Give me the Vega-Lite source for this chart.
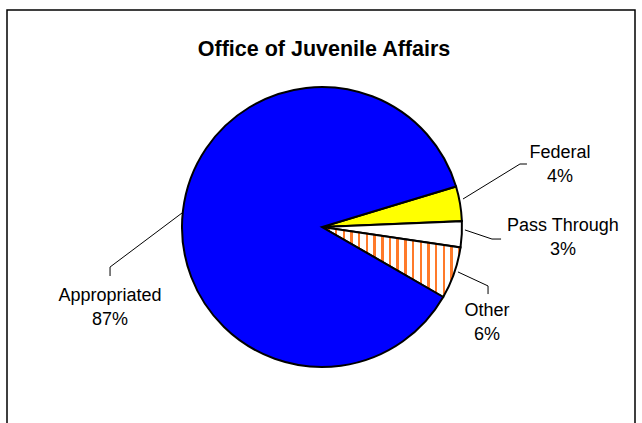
{
  "$schema": "https://vega.github.io/schema/vega-lite/v6.json",
  "width": 628,
  "height": 420,
  "autosize": {"type": "none"},
  "padding": {"left": 7, "top": 10, "right": 7, "bottom": 0},
  "background": "white",
  "config": {"view": {"stroke": "black", "strokeWidth": 1.5}, "font": "Liberation Sans"},
  "title": {"text": "Office of Juvenile Affairs", "font": "Liberation Sans", "fontSize": 21.5, "fontWeight": "bold", "color": "black", "anchor": "middle", "frame": "group", "baseline": "alphabetic", "offset": -67, "dx": 3},
  "datasets": {
    "slices": [
      {"category": "Federal", "value": 4, "order": 1},
      {"category": "Pass Through", "value": 3, "order": 2},
      {"category": "Other", "value": 6, "order": 3},
      {"category": "Appropriated", "value": 87, "order": 4}
    ],
    "labels": [
      {"category": "Federal", "text": "Federal\n4%", "lx": 170, "ly": 49.3},
      {"category": "Pass Through", "text": "Pass Through\n3%", "lx": 172.1, "ly": -2.9},
      {"category": "Other", "text": "Other\n6%", "lx": 117.9, "ly": -63.6},
      {"category": "Appropriated", "text": "Appropriated\n87%", "lx": -151.4, "ly": -52.9}
    ],
    "leaders": [
      {"category": "Federal", "step": 1, "lx": 100.7, "ly": 20},
      {"category": "Federal", "step": 2, "lx": 141.4, "ly": 45},
      {"category": "Federal", "step": 3, "lx": 146.4, "ly": 45},
      {"category": "Pass Through", "step": 1, "lx": 102.1, "ly": -2.1},
      {"category": "Pass Through", "step": 2, "lx": 121.4, "ly": -8.6},
      {"category": "Pass Through", "step": 3, "lx": 127.9, "ly": -8.6},
      {"category": "Other", "step": 1, "lx": 97.1, "ly": -32.1},
      {"category": "Other", "step": 2, "lx": 118.6, "ly": -42.1},
      {"category": "Other", "step": 3, "lx": 118.6, "ly": -47.9},
      {"category": "Appropriated", "step": 1, "lx": -100, "ly": 10},
      {"category": "Appropriated", "step": 2, "lx": -151.4, "ly": -28.6},
      {"category": "Appropriated", "step": 3, "lx": -151.4, "ly": -35}
    ]
  },
  "layer": [
    {
      "data": {"name": "slices"},
      "mark": {"type": "arc", "radius": 140, "stroke": "black", "strokeWidth": 2},
      "encoding": {
        "x": {"datum": 0, "type": "quantitative", "scale": {"domain": [-225, 223.57], "nice": false, "zero": false}, "axis": null},
        "y": {"datum": 0, "type": "quantitative", "scale": {"domain": [-145, 155], "nice": false, "zero": false}, "axis": null},
        "theta": {"field": "value", "type": "quantitative", "stack": true, "scale": {"range": [1.2776, 7.5608]}},
        "order": {"field": "order", "type": "quantitative"},
        "fill": {
          "condition": {
            "test": "datum.category === 'Other'",
            "value": {
              "gradient": "linear", "x1": 0, "y1": 0, "x2": 1, "y2": 0,
              "stops": [
                {"offset": 0, "color": "white"}, {"offset": 0.0378, "color": "white"}, {"offset": 0.0378, "color": "#FF7A2A"}, {"offset": 0.0556, "color": "#FF7A2A"},
                {"offset": 0.0556, "color": "white"}, {"offset": 0.0933, "color": "white"}, {"offset": 0.0933, "color": "#FF7A2A"}, {"offset": 0.1111, "color": "#FF7A2A"},
                {"offset": 0.1111, "color": "white"}, {"offset": 0.1489, "color": "white"}, {"offset": 0.1489, "color": "#FF7A2A"}, {"offset": 0.1667, "color": "#FF7A2A"},
                {"offset": 0.1667, "color": "white"}, {"offset": 0.2044, "color": "white"}, {"offset": 0.2044, "color": "#FF7A2A"}, {"offset": 0.2222, "color": "#FF7A2A"},
                {"offset": 0.2222, "color": "white"}, {"offset": 0.26, "color": "white"}, {"offset": 0.26, "color": "#FF7A2A"}, {"offset": 0.2778, "color": "#FF7A2A"},
                {"offset": 0.2778, "color": "white"}, {"offset": 0.3156, "color": "white"}, {"offset": 0.3156, "color": "#FF7A2A"}, {"offset": 0.3333, "color": "#FF7A2A"},
                {"offset": 0.3333, "color": "white"}, {"offset": 0.3711, "color": "white"}, {"offset": 0.3711, "color": "#FF7A2A"}, {"offset": 0.3889, "color": "#FF7A2A"},
                {"offset": 0.3889, "color": "white"}, {"offset": 0.4267, "color": "white"}, {"offset": 0.4267, "color": "#FF7A2A"}, {"offset": 0.4444, "color": "#FF7A2A"},
                {"offset": 0.4444, "color": "white"}, {"offset": 0.4822, "color": "white"}, {"offset": 0.4822, "color": "#FF7A2A"}, {"offset": 0.5, "color": "#FF7A2A"},
                {"offset": 0.5, "color": "white"}, {"offset": 0.5378, "color": "white"}, {"offset": 0.5378, "color": "#FF7A2A"}, {"offset": 0.5556, "color": "#FF7A2A"},
                {"offset": 0.5556, "color": "white"}, {"offset": 0.5933, "color": "white"}, {"offset": 0.5933, "color": "#FF7A2A"}, {"offset": 0.6111, "color": "#FF7A2A"},
                {"offset": 0.6111, "color": "white"}, {"offset": 0.6489, "color": "white"}, {"offset": 0.6489, "color": "#FF7A2A"}, {"offset": 0.6667, "color": "#FF7A2A"},
                {"offset": 0.6667, "color": "white"}, {"offset": 0.7044, "color": "white"}, {"offset": 0.7044, "color": "#FF7A2A"}, {"offset": 0.7222, "color": "#FF7A2A"},
                {"offset": 0.7222, "color": "white"}, {"offset": 0.76, "color": "white"}, {"offset": 0.76, "color": "#FF7A2A"}, {"offset": 0.7778, "color": "#FF7A2A"},
                {"offset": 0.7778, "color": "white"}, {"offset": 0.8156, "color": "white"}, {"offset": 0.8156, "color": "#FF7A2A"}, {"offset": 0.8333, "color": "#FF7A2A"},
                {"offset": 0.8333, "color": "white"}, {"offset": 0.8711, "color": "white"}, {"offset": 0.8711, "color": "#FF7A2A"}, {"offset": 0.8889, "color": "#FF7A2A"},
                {"offset": 0.8889, "color": "white"}, {"offset": 0.9267, "color": "white"}, {"offset": 0.9267, "color": "#FF7A2A"}, {"offset": 0.9444, "color": "#FF7A2A"},
                {"offset": 0.9444, "color": "white"}, {"offset": 0.9822, "color": "white"}, {"offset": 0.9822, "color": "#FF7A2A"}, {"offset": 1, "color": "#FF7A2A"}
              ]
            }
          },
          "field": "category",
          "type": "nominal",
          "scale": {"domain": ["Federal", "Pass Through", "Other", "Appropriated"], "range": ["#FFFF00", "#FFFFFF", "#FFFFFF", "#0000FF"]},
          "legend": null
        }
      }
    },
    {
      "data": {"name": "leaders"},
      "mark": {"type": "line", "stroke": "black", "strokeWidth": 1},
      "encoding": {
        "x": {"field": "lx", "type": "quantitative", "scale": {"domain": [-225, 223.57], "nice": false, "zero": false}, "axis": null},
        "y": {"field": "ly", "type": "quantitative", "scale": {"domain": [-145, 155], "nice": false, "zero": false}, "axis": null},
        "detail": {"field": "category", "type": "nominal"},
        "order": {"field": "step", "type": "quantitative"}
      }
    },
    {
      "data": {"name": "labels"},
      "mark": {"type": "text", "align": "center", "baseline": "alphabetic", "fontSize": 18, "lineBreak": "\n", "lineHeight": 24, "color": "black", "font": "Liberation Sans"},
      "encoding": {
        "x": {"field": "lx", "type": "quantitative", "scale": {"domain": [-225, 223.57], "nice": false, "zero": false}, "axis": null},
        "y": {"field": "ly", "type": "quantitative", "scale": {"domain": [-145, 155], "nice": false, "zero": false}, "axis": null},
        "text": {"field": "text", "type": "nominal"}
      }
    }
  ]
}
